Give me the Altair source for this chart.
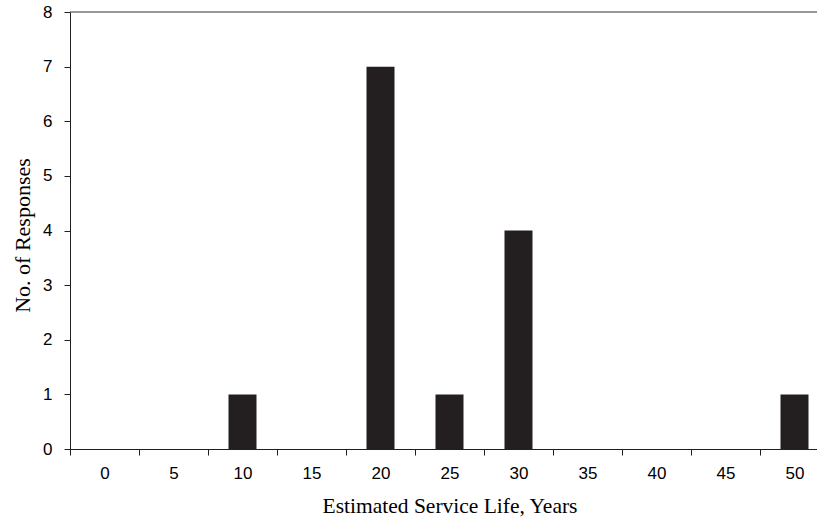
import altair as alt
import pandas as pd

years = ["0", "5", "10", "15", "20", "25", "30", "35", "40", "45", "50"]
responses = [0, 0, 1, 0, 7, 1, 4, 0, 0, 0, 1]
y_ticks = [0, 1, 2, 3, 4, 5, 6, 7, 8]

df = pd.DataFrame({"year": years, "n": responses})

SERIF = "Liberation Serif"
SANS = "Liberation Sans"
INK = "#231f20"
STEP = 69

xscale = alt.Scale(domain=years, range=[0, STEP * len(years)], paddingInner=0.594, paddingOuter=0.297)
yscale = alt.Scale(domain=[0, 8], nice=False)

bars = alt.Chart(df).mark_bar(color=INK).encode(
    x=alt.X("year:N", sort=years, scale=xscale,
            axis=alt.Axis(title="Estimated Service Life, Years", labelAngle=0,
                          tickOffset=-STEP / 2, labelOffset=STEP / 2,
                          tickSize=6, tickColor=INK, domainColor=INK,
                          labelFont=SANS, labelFontSize=17, labelColor="#000",
                          labelPadding=10,
                          titleFont=SERIF, titleFontSize=21.5, titleFontWeight="normal",
                          titleColor="#000", titleX=379.5, titleY=63,
                          titleBaseline="alphabetic", titleAnchor="middle", titleAlign="center",
                          grid=False)),
    y=alt.Y("n:Q", scale=yscale,
            axis=alt.Axis(title="No. of Responses", values=y_ticks, format="d",
                          tickSize=6, tickColor=INK, domainColor=INK,
                          labelFont=SANS, labelFontSize=17, labelColor="#000",
                          labelPadding=12,
                          titleFont=SERIF, titleFontSize=22, titleFontWeight="normal",
                          titleColor="#000", titleX=-41, titleY=223, titleAngle=270,
                          titleBaseline="alphabetic", titleAlign="center",
                          grid=False)),
)

top = alt.Chart(pd.DataFrame({"v": [8]})).mark_rule(color="#333", strokeWidth=1).encode(
    y=alt.Y("v:Q", scale=yscale),
    x=alt.value(0),
    x2=alt.value(STEP * len(years)),
)

chart = alt.layer(bars, top).properties(
    width=747, height=437,
    autosize=alt.AutoSizeParams(type="none"),
    padding={"left": 70, "top": 12, "right": 0, "bottom": 71},
    background="white",
).configure_view(stroke=None)

chart.save("out.html", embed_options={"renderer": "svg", "actions": False})
